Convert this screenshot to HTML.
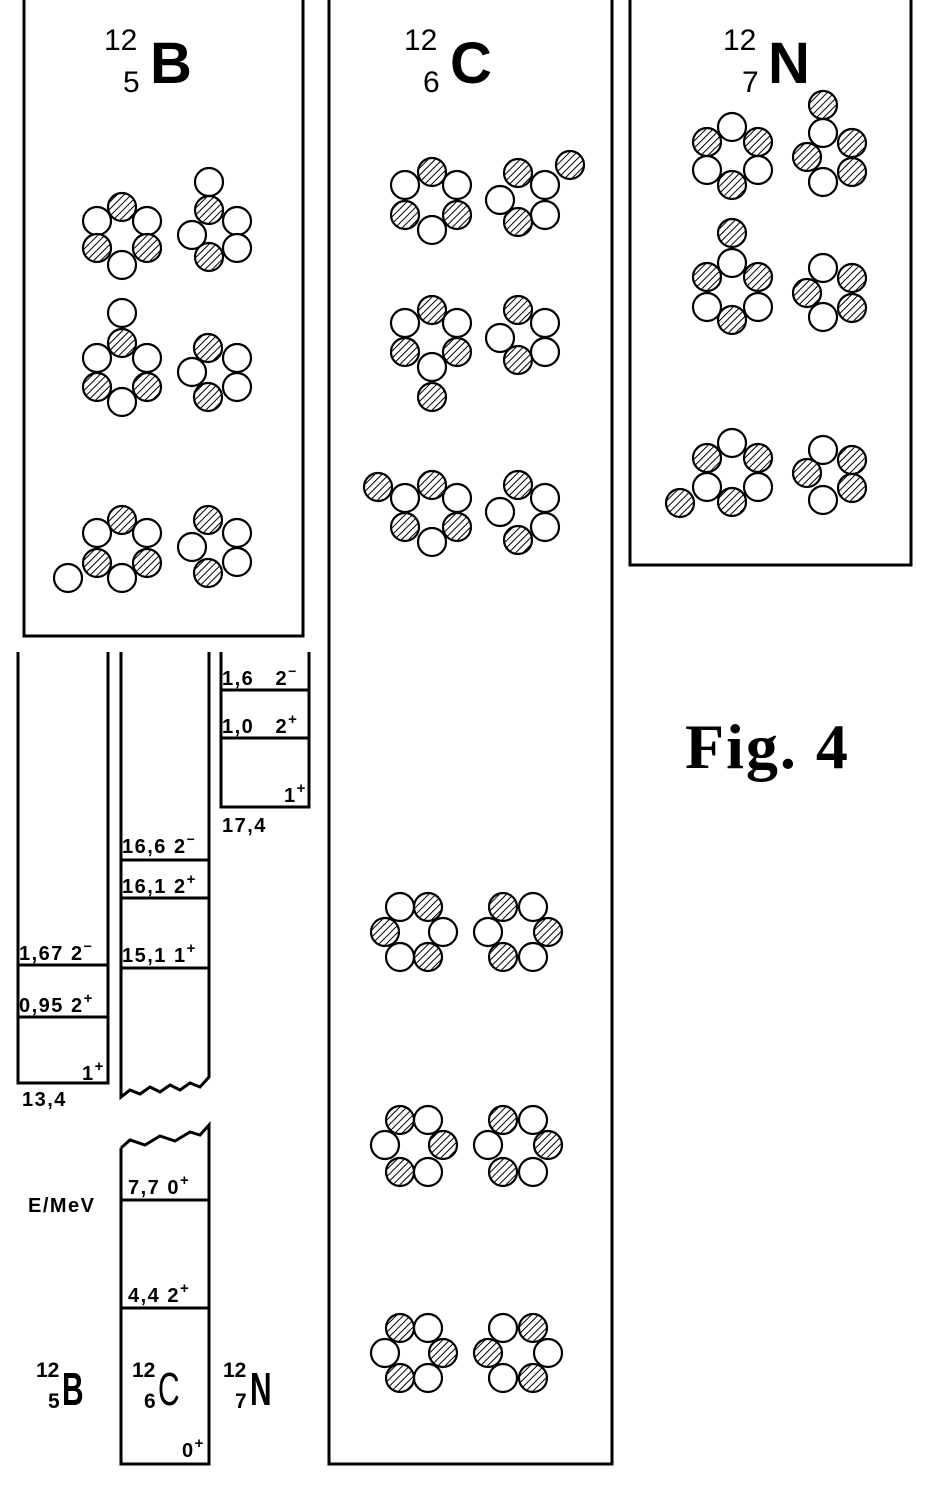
<!DOCTYPE html>
<html><head><meta charset="utf-8"><style>
html,body{margin:0;padding:0;background:#fff;}
svg{display:block;}
.t{font-family:"Liberation Sans",sans-serif;font-weight:bold;fill:#000;}
.s{font-family:"Liberation Sans",sans-serif;font-weight:bold;fill:#000;font-size:20px;letter-spacing:1.5px;}
</style></head><body>
<svg width="932" height="1486" viewBox="0 0 932 1486" xmlns="http://www.w3.org/2000/svg">
<defs>
<pattern id="h" patternUnits="userSpaceOnUse" width="5" height="5" patternTransform="rotate(45)">
<rect width="5" height="5" fill="#fff"/><line x1="0" y1="0" x2="0" y2="5" stroke="#000" stroke-width="2"/>
</pattern>
</defs>
<g fill="none" stroke="#000" stroke-width="3">
<polyline points="24,0 24,636 303,636 303,0"/>
<polyline points="329,0 329,1464 612,1464 612,0"/>
<polyline points="630,0 630,565 911,565 911,0"/>
</g>
<g class="t">
<text x="104" y="50" font-size="30" font-weight="normal">12</text>
<text x="123" y="92" font-size="30" font-weight="normal">5</text>
<text x="150" y="83" font-size="58">B</text>
<text x="404" y="50" font-size="30" font-weight="normal">12</text>
<text x="423" y="92" font-size="30" font-weight="normal">6</text>
<text x="450" y="83" font-size="58">C</text>
<text x="723" y="50" font-size="30" font-weight="normal">12</text>
<text x="742" y="92" font-size="30" font-weight="normal">7</text>
<text x="768" y="83" font-size="58">N</text>
</g>
<g stroke="#000" stroke-width="2.2">
<circle cx="122" cy="207" r="14" fill="url(#h)"/><circle cx="97" cy="221" r="14" fill="#fff"/><circle cx="147" cy="221" r="14" fill="#fff"/><circle cx="97" cy="248" r="14" fill="url(#h)"/><circle cx="147" cy="248" r="14" fill="url(#h)"/><circle cx="122" cy="265" r="14" fill="#fff"/>
<circle cx="209" cy="182" r="14" fill="#fff"/><circle cx="209" cy="210" r="14" fill="url(#h)"/><circle cx="237" cy="221" r="14" fill="#fff"/><circle cx="192" cy="235" r="14" fill="#fff"/><circle cx="237" cy="248" r="14" fill="#fff"/><circle cx="209" cy="257" r="14" fill="url(#h)"/>
<circle cx="122" cy="313" r="14" fill="#fff"/><circle cx="122" cy="343" r="14" fill="url(#h)"/><circle cx="97" cy="358" r="14" fill="#fff"/><circle cx="147" cy="358" r="14" fill="#fff"/><circle cx="97" cy="387" r="14" fill="url(#h)"/><circle cx="147" cy="387" r="14" fill="url(#h)"/><circle cx="122" cy="402" r="14" fill="#fff"/>
<circle cx="208" cy="348" r="14" fill="url(#h)"/><circle cx="237" cy="358" r="14" fill="#fff"/><circle cx="192" cy="372" r="14" fill="#fff"/><circle cx="237" cy="387" r="14" fill="#fff"/><circle cx="208" cy="397" r="14" fill="url(#h)"/>
<circle cx="122" cy="520" r="14" fill="url(#h)"/><circle cx="97" cy="533" r="14" fill="#fff"/><circle cx="147" cy="533" r="14" fill="#fff"/><circle cx="97" cy="563" r="14" fill="url(#h)"/><circle cx="147" cy="563" r="14" fill="url(#h)"/><circle cx="122" cy="578" r="14" fill="#fff"/><circle cx="68" cy="578" r="14" fill="#fff"/>
<circle cx="208" cy="520" r="14" fill="url(#h)"/><circle cx="237" cy="533" r="14" fill="#fff"/><circle cx="192" cy="547" r="14" fill="#fff"/><circle cx="237" cy="562" r="14" fill="#fff"/><circle cx="208" cy="573" r="14" fill="url(#h)"/>
<circle cx="432" cy="172" r="14" fill="url(#h)"/><circle cx="405" cy="185" r="14" fill="#fff"/><circle cx="457" cy="185" r="14" fill="#fff"/><circle cx="405" cy="215" r="14" fill="url(#h)"/><circle cx="457" cy="215" r="14" fill="url(#h)"/><circle cx="432" cy="230" r="14" fill="#fff"/>
<circle cx="518" cy="173" r="14" fill="url(#h)"/><circle cx="545" cy="185" r="14" fill="#fff"/><circle cx="570" cy="165" r="14" fill="url(#h)"/><circle cx="500" cy="200" r="14" fill="#fff"/><circle cx="545" cy="215" r="14" fill="#fff"/><circle cx="518" cy="222" r="14" fill="url(#h)"/>
<circle cx="432" cy="310" r="14" fill="url(#h)"/><circle cx="405" cy="323" r="14" fill="#fff"/><circle cx="457" cy="323" r="14" fill="#fff"/><circle cx="405" cy="352" r="14" fill="url(#h)"/><circle cx="457" cy="352" r="14" fill="url(#h)"/><circle cx="432" cy="367" r="14" fill="#fff"/><circle cx="432" cy="397" r="14" fill="url(#h)"/>
<circle cx="518" cy="310" r="14" fill="url(#h)"/><circle cx="545" cy="323" r="14" fill="#fff"/><circle cx="500" cy="338" r="14" fill="#fff"/><circle cx="545" cy="352" r="14" fill="#fff"/><circle cx="518" cy="360" r="14" fill="url(#h)"/>
<circle cx="378" cy="487" r="14" fill="url(#h)"/><circle cx="432" cy="485" r="14" fill="url(#h)"/><circle cx="405" cy="498" r="14" fill="#fff"/><circle cx="457" cy="498" r="14" fill="#fff"/><circle cx="405" cy="527" r="14" fill="url(#h)"/><circle cx="457" cy="527" r="14" fill="url(#h)"/><circle cx="432" cy="542" r="14" fill="#fff"/>
<circle cx="518" cy="485" r="14" fill="url(#h)"/><circle cx="545" cy="498" r="14" fill="#fff"/><circle cx="500" cy="512" r="14" fill="#fff"/><circle cx="545" cy="527" r="14" fill="#fff"/><circle cx="518" cy="540" r="14" fill="url(#h)"/>
<circle cx="400" cy="907" r="14" fill="#fff"/><circle cx="428" cy="907" r="14" fill="url(#h)"/><circle cx="385" cy="932" r="14" fill="url(#h)"/><circle cx="443" cy="932" r="14" fill="#fff"/><circle cx="400" cy="957" r="14" fill="#fff"/><circle cx="428" cy="957" r="14" fill="url(#h)"/>
<circle cx="503" cy="907" r="14" fill="url(#h)"/><circle cx="533" cy="907" r="14" fill="#fff"/><circle cx="488" cy="932" r="14" fill="#fff"/><circle cx="548" cy="932" r="14" fill="url(#h)"/><circle cx="503" cy="957" r="14" fill="url(#h)"/><circle cx="533" cy="957" r="14" fill="#fff"/>
<circle cx="400" cy="1120" r="14" fill="url(#h)"/><circle cx="428" cy="1120" r="14" fill="#fff"/><circle cx="385" cy="1145" r="14" fill="#fff"/><circle cx="443" cy="1145" r="14" fill="url(#h)"/><circle cx="400" cy="1172" r="14" fill="url(#h)"/><circle cx="428" cy="1172" r="14" fill="#fff"/>
<circle cx="503" cy="1120" r="14" fill="url(#h)"/><circle cx="533" cy="1120" r="14" fill="#fff"/><circle cx="488" cy="1145" r="14" fill="#fff"/><circle cx="548" cy="1145" r="14" fill="url(#h)"/><circle cx="503" cy="1172" r="14" fill="url(#h)"/><circle cx="533" cy="1172" r="14" fill="#fff"/>
<circle cx="400" cy="1328" r="14" fill="url(#h)"/><circle cx="428" cy="1328" r="14" fill="#fff"/><circle cx="385" cy="1353" r="14" fill="#fff"/><circle cx="443" cy="1353" r="14" fill="url(#h)"/><circle cx="400" cy="1378" r="14" fill="url(#h)"/><circle cx="428" cy="1378" r="14" fill="#fff"/>
<circle cx="503" cy="1328" r="14" fill="#fff"/><circle cx="533" cy="1328" r="14" fill="url(#h)"/><circle cx="488" cy="1353" r="14" fill="url(#h)"/><circle cx="548" cy="1353" r="14" fill="#fff"/><circle cx="503" cy="1378" r="14" fill="#fff"/><circle cx="533" cy="1378" r="14" fill="url(#h)"/>
<circle cx="732" cy="127" r="14" fill="#fff"/><circle cx="707" cy="142" r="14" fill="url(#h)"/><circle cx="758" cy="142" r="14" fill="url(#h)"/><circle cx="707" cy="170" r="14" fill="#fff"/><circle cx="758" cy="170" r="14" fill="#fff"/><circle cx="732" cy="185" r="14" fill="url(#h)"/>
<circle cx="823" cy="105" r="14" fill="url(#h)"/><circle cx="823" cy="133" r="14" fill="#fff"/><circle cx="852" cy="143" r="14" fill="url(#h)"/><circle cx="807" cy="157" r="14" fill="url(#h)"/><circle cx="852" cy="172" r="14" fill="url(#h)"/><circle cx="823" cy="182" r="14" fill="#fff"/>
<circle cx="732" cy="233" r="14" fill="url(#h)"/><circle cx="732" cy="263" r="14" fill="#fff"/><circle cx="707" cy="277" r="14" fill="url(#h)"/><circle cx="758" cy="277" r="14" fill="url(#h)"/><circle cx="707" cy="307" r="14" fill="#fff"/><circle cx="758" cy="307" r="14" fill="#fff"/><circle cx="732" cy="320" r="14" fill="url(#h)"/>
<circle cx="823" cy="268" r="14" fill="#fff"/><circle cx="852" cy="278" r="14" fill="url(#h)"/><circle cx="807" cy="293" r="14" fill="url(#h)"/><circle cx="852" cy="308" r="14" fill="url(#h)"/><circle cx="823" cy="317" r="14" fill="#fff"/>
<circle cx="732" cy="443" r="14" fill="#fff"/><circle cx="707" cy="458" r="14" fill="url(#h)"/><circle cx="758" cy="458" r="14" fill="url(#h)"/><circle cx="707" cy="487" r="14" fill="#fff"/><circle cx="758" cy="487" r="14" fill="#fff"/><circle cx="732" cy="502" r="14" fill="url(#h)"/><circle cx="680" cy="503" r="14" fill="url(#h)"/>
<circle cx="823" cy="450" r="14" fill="#fff"/><circle cx="852" cy="460" r="14" fill="url(#h)"/><circle cx="807" cy="473" r="14" fill="url(#h)"/><circle cx="852" cy="488" r="14" fill="url(#h)"/><circle cx="823" cy="500" r="14" fill="#fff"/>
</g>
<g fill="none" stroke="#000" stroke-width="3">
<polyline points="18,652 18,1083 108,1083 108,652"/>
<line x1="18" y1="965" x2="108" y2="965"/><line x1="18" y1="1017" x2="108" y2="1017"/>
<polyline points="121,652 121,1097 130,1090 140,1094 150,1087 160,1092 170,1085 180,1090 190,1083 200,1087 209,1077 209,652"/>
<line x1="121" y1="860" x2="209" y2="860"/><line x1="121" y1="898" x2="209" y2="898"/><line x1="121" y1="968" x2="209" y2="968"/>
<polyline points="221,652 221,807 309,807 309,652"/>
<line x1="221" y1="690" x2="309" y2="690"/><line x1="221" y1="738" x2="309" y2="738"/>
<polyline points="121,1148 130,1140 145,1145 160,1136 175,1141 190,1132 200,1135 209,1125 209,1464 121,1464 121,1148"/>
<line x1="121" y1="1200" x2="209" y2="1200"/><line x1="121" y1="1308" x2="209" y2="1308"/>
</g>
<g class="s">
<text x="19" y="960">1,67 2<tspan dy="-9" font-size="14">−</tspan></text>
<text x="19" y="1012">0,95 2<tspan dy="-9" font-size="15">+</tspan></text>
<text x="82" y="1080">1<tspan dy="-9" font-size="15">+</tspan></text>
<text x="22" y="1106">13,4</text>
<text x="122" y="853">16,6 2<tspan dy="-9" font-size="14">−</tspan></text>
<text x="122" y="893">16,1 2<tspan dy="-9" font-size="15">+</tspan></text>
<text x="122" y="962">15,1 1<tspan dy="-9" font-size="15">+</tspan></text>
<text x="222" y="685">1,6&#160;&#160; 2<tspan dy="-9" font-size="14">−</tspan></text>
<text x="222" y="733">1,0&#160;&#160; 2<tspan dy="-9" font-size="15">+</tspan></text>
<text x="284" y="802">1<tspan dy="-9" font-size="15">+</tspan></text>
<text x="222" y="832">17,4</text>
<text x="128" y="1194">7,7 0<tspan dy="-9" font-size="15">+</tspan></text>
<text x="128" y="1302">4,4 2<tspan dy="-9" font-size="15">+</tspan></text>
<text x="182" y="1457">0<tspan dy="-9" font-size="15">+</tspan></text>
<text x="28" y="1212">E/MeV</text>
</g>
<g class="t">
<text x="36" y="1377" font-size="21">12</text><text x="48" y="1408" font-size="21">5</text><text x="62" y="1405" font-size="46" transform="translate(62 0) scale(0.65 1) translate(-62 0)">B</text>
<text x="132" y="1377" font-size="21">12</text><text x="144" y="1408" font-size="21">6</text><text x="158" y="1405" font-size="46" font-weight="normal" transform="translate(158 0) scale(0.65 1) translate(-158 0)">C</text>
<text x="223" y="1377" font-size="21">12</text><text x="235" y="1408" font-size="21">7</text><text x="250" y="1405" font-size="46" transform="translate(250 0) scale(0.65 1) translate(-250 0)">N</text>
</g>
<text x="685" y="768" font-family="Liberation Serif,serif" font-weight="bold" font-size="64" letter-spacing="2" fill="#000">Fig. 4</text>
</svg>
</body></html>
